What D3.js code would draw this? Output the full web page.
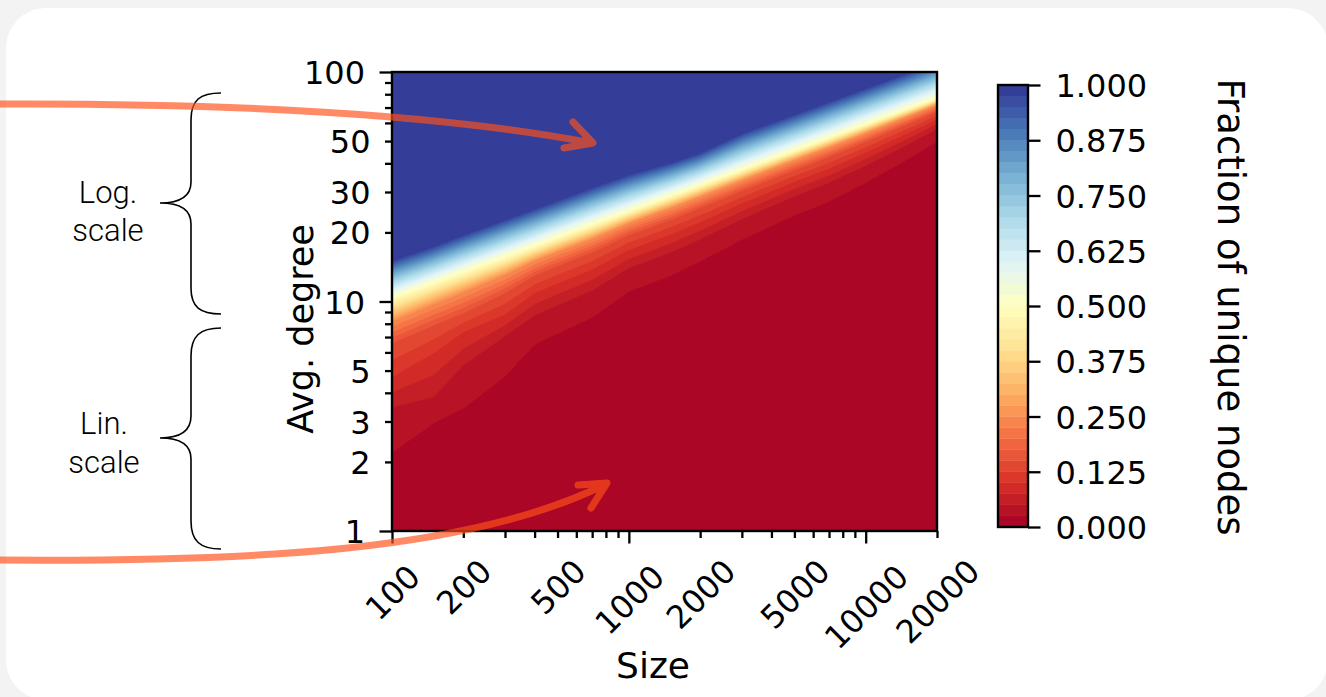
<!DOCTYPE html>
<html><head><meta charset="utf-8">
<script src="https://cdn.jsdelivr.net/npm/d3@7"></script>
<style>
html,body{margin:0;padding:0;background:#f3f3f3;overflow:hidden;}
svg{display:block;}
</style></head><body>
<svg id="chart" width="1326" height="697"></svg>
<script>
// ---------- data ----------
// network sizes (grid columns of the contour plot)
const sizes = [100,150,200,300,400,500,700,1000,1500,2000,3000,5000,7000,10000,15000,20000];
const levelValues = [0.025, 0.05, 0.1, 0.15, 0.25, 0.5, 0.975];
// avg. degree at which each level is reached, per size
const degAt0025 = [2.19,2.93,3.40,4.69,6.46,7.22,8.47,11.0,12.9,14.9,18.5,23.6,27.1,32.8,41.4,49.5];
const degAt005  = [3.47,3.84,5.29,7.07,8.73,9.65,11.2,14.0,16.4,18.7,22.9,28.8,33.0,39.2,48.3,56.6];
const degAt010  = [4.69,5.97,7.36,8.79,10.9,12.0,13.8,16.8,19.6,22.2,26.8,33.3,38.0,44.7,54.1,62.3];
const degAt015  = [6.60,7.89,8.91,10.9,13.0,14.3,16.4,19.5,22.7,25.6,30.4,37.4,42.7,49.7,59.3,67.5];
const degAt025  = [8.22,9.76,11.0,13.1,15.1,16.5,18.8,22.0,25.6,28.7,33.8,41.4,47.1,54.3,64.1,72.2];
const degAt050  = [10.4,12.1,13.5,15.7,17.5,19.1,21.7,24.8,28.9,32.2,37.6,45.7,51.9,59.4,69.3,77.1];
const degAt0975 = [15.0,17.3,19.4,22.6,25.2,27.4,31.2,35.5,40.0,44.2,53.7,65.0,73.8,84.5,98.5,110];

// ticks
const xTickValues = [100,200,300,400,500,600,700,800,900,1000,2000,3000,4000,5000,6000,7000,8000,9000,10000,20000];
const xMajor = [100,1000,10000];
const xLabels = [100,200,500,1000,2000,5000,10000,20000];
const yTickValues = [1,2,3,4,5,6,7,8,9,10,20,30,40,50,60,70,80,90,100];
const yMajor = [1,10,100];
const yLabels = [1,2,3,5,10,20,30,50,100];
const cbTicks = [0,0.125,0.25,0.375,0.5,0.625,0.75,0.875,1.0];
const nBands = 40;
const rdylbu = ["#a50026","#d73027","#f46d43","#fdae61","#fee090","#ffffbf","#e0f3f8","#abd9e9","#74add1","#4575b4","#313695"];

// ---------- setup ----------
const svg = d3.select("#chart");
const TICKFONT = "'DejaVu Sans', sans-serif";
const TFS = 32;
const cmap = d3.scaleLinear().domain(d3.range(11).map(i => i/10)).range(rdylbu).interpolate(d3.interpolateRgb);

// background card
svg.append("rect").attr("x",0).attr("y",0).attr("width",1326).attr("height",697).attr("fill","#f3f3f3");
svg.append("rect").attr("x",6).attr("y",8).attr("width",1322).attr("height",692).attr("rx",40).attr("fill","#ffffff");

const X0 = 392, X1 = 937, Y0 = 72, Y1 = 531;
const x = d3.scaleLog().domain([100,20000]).range([X0,X1]);
const y = d3.scaleLog().domain([1,100]).range([Y1,Y0]);

// ---------- value field ----------
const W = X1 - X0, H = Y1 - Y0;
const lsz = sizes.map(Math.log10);
const anchorsU = [degAt0025,degAt005,degAt010,degAt015,degAt025,degAt050,degAt0975].map(a => a.map(Math.log10));
const values = new Float64Array(W*H);
for (let i = 0; i < W; i++) {
  const ls = Math.log10(x.invert(X0 + i + 0.5));
  let j = d3.bisectRight(lsz, ls) - 1;
  j = Math.max(0, Math.min(lsz.length - 2, j));
  const t = (ls - lsz[j]) / (lsz[j+1] - lsz[j]);
  const au = anchorsU.map(a => a[j] + (a[j+1] - a[j]) * t);
  for (let r = 0; r < H; r++) {
    const u = Math.log10(y.invert(Y0 + r + 0.5));
    let v;
    if (u <= au[0]) v = 0.01;
    else if (u >= au[au.length-1]) v = 0.99;
    else {
      let k = 0;
      while (u > au[k+1]) k++;
      const f = (u - au[k]) / (au[k+1] - au[k]);
      v = levelValues[k] + f * (levelValues[k+1] - levelValues[k]);
    }
    values[r*W + i] = v;
  }
}
const thresholds = d3.range(nBands).map(k => +(k/nBands).toFixed(5));
const contours = d3.contours().size([W,H]).thresholds(thresholds)(values);

svg.append("clipPath").attr("id","plotclip").append("rect")
  .attr("x",X0).attr("y",Y0).attr("width",W).attr("height",H);
const plot = svg.append("g").attr("clip-path","url(#plotclip)");
plot.append("g").attr("transform",`translate(${X0},${Y0})`)
  .selectAll("path").data(contours).join("path")
  .attr("d", d3.geoPath())
  .attr("fill", d => cmap(d.value + 0.5/nBands))
  .attr("stroke", d => d3.color(cmap(d.value + 0.5/nBands)).brighter(0.12))
  .attr("stroke-width", 0.6)
  .attr("stroke-opacity", 0.6);

// frame
svg.append("rect").attr("x",X0).attr("y",Y0).attr("width",W).attr("height",H)
  .attr("fill","none").attr("stroke","#000").attr("stroke-width",2.4);

// ---------- axes ----------
const yAxis = svg.append("g").attr("transform",`translate(${X0},0)`)
  .call(d3.axisLeft(y).tickValues(yTickValues).tickFormat(d => yLabels.includes(d) ? d : ""));
yAxis.select(".domain").remove();
yAxis.selectAll(".tick line").attr("x2", d => yMajor.includes(d) ? -12.5 : -7).attr("stroke","#000").attr("stroke-width",2.3);
yAxis.selectAll(".tick text").attr("x", d => yMajor.includes(d) ? -27 : -21.5)
  .attr("font-family",TICKFONT).attr("font-size",TFS).attr("fill","#000").attr("dy","0.36em");

const xAxis = svg.append("g").attr("transform",`translate(0,${Y1})`)
  .call(d3.axisBottom(x).tickValues(xTickValues).tickFormat(d => xLabels.includes(d) ? d : ""));
xAxis.select(".domain").remove();
xAxis.selectAll(".tick line").attr("y2", d => xMajor.includes(d) ? 12.5 : 7).attr("stroke","#000").attr("stroke-width",2.3);
xAxis.selectAll(".tick text")
  .attr("font-family",TICKFONT).attr("font-size",TFS).attr("fill","#000")
  .attr("text-anchor","middle").attr("dy","0.36em").attr("y",0)
  .each(function(d){
    if (!xLabels.includes(d)) return;
    const w = this.getComputedTextLength();
    const len = xMajor.includes(d) ? 12.5 : 7;
    const cy = len + 19 + (w + 0.73*TFS) * 0.3536;
    d3.select(this).attr("transform",`translate(0,${cy}) rotate(-45)`);
  });

// axis labels
svg.append("text").attr("x",653).attr("y",678).attr("text-anchor","middle")
  .attr("font-family",TICKFONT).attr("font-size",36).text("Size");
svg.append("text").attr("transform","translate(300,329) rotate(-90)").attr("text-anchor","middle")
  .attr("dy","0.36em").attr("font-family",TICKFONT).attr("font-size",35).text("Avg. degree");

// ---------- colorbar ----------
const CBX = 998, CBW = 30;
const cb = d3.scaleLinear().domain([0,1]).range([527,85]);
svg.append("g").selectAll("rect").data(d3.range(nBands)).join("rect")
  .attr("x",CBX).attr("width",CBW)
  .attr("y", k => cb((k+1)/nBands)).attr("height", k => cb(k/nBands) - cb((k+1)/nBands))
  .attr("fill", k => cmap((k+0.5)/nBands))
  .attr("stroke", k => cmap((k+0.5)/nBands)).attr("stroke-width",0.4);
svg.append("rect").attr("x",CBX).attr("y",85).attr("width",CBW).attr("height",442)
  .attr("fill","none").attr("stroke","#000").attr("stroke-width",2.4);
const cbAxis = svg.append("g").attr("transform",`translate(${CBX+CBW},0)`)
  .call(d3.axisRight(cb).tickValues(cbTicks).tickFormat(d3.format(".3f")).tickSize(12.5).tickPadding(15));
cbAxis.select(".domain").remove();
cbAxis.selectAll(".tick line").attr("stroke","#000").attr("stroke-width",2.3);
cbAxis.selectAll(".tick text").attr("font-family",TICKFONT).attr("font-size",TFS).attr("fill","#000").attr("dy","0.36em");
svg.append("text").attr("transform","translate(1231,307) rotate(90)").attr("text-anchor","middle")
  .attr("dy","0.36em").attr("font-family",TICKFONT).attr("font-size",37).text("Fraction of unique nodes");

// ---------- annotations ----------
const ann = svg.append("g").attr("fill","none").attr("stroke","#000").attr("stroke-width",1.6);
ann.append("path").attr("d","M221,93 C200,93 191,100 191,120 L191,182 C191,196 181,203 160,203 C181,203 191,210 191,224 L191,288 C191,307 200,314 221,314");
ann.append("path").attr("d","M221,328 C200,328 191,336 191,356 L191,416 C191,430 181,438 160,438 C181,438 191,445 191,459 L191,521 C191,541 200,549 221,549");

const note = svg.append("g").attr("font-family","Roboto, 'Liberation Sans', sans-serif").attr("font-weight",300)
  .attr("font-size",31).attr("fill","#000").attr("text-anchor","middle");
note.append("text").attr("x",108).attr("y",203).text("Log.");
note.append("text").attr("x",108).attr("y",241).text("scale");
note.append("text").attr("x",104).attr("y",434).text("Lin.");
note.append("text").attr("x",104).attr("y",473).text("scale");

const arrows = svg.append("g").attr("opacity",0.67).attr("fill","none")
  .attr("stroke","rgb(255,80,25)").attr("stroke-width",7).attr("stroke-linecap","round").attr("stroke-linejoin","round");
arrows.append("path").attr("d","M-5,104 C220,103 430,112 592,143 M573,122 L593,143 L564,148");
arrows.append("path").attr("d","M-5,560 C250,562 470,552 606,484 M578,485 L607,483 L591,508");
</script>
</body></html>
